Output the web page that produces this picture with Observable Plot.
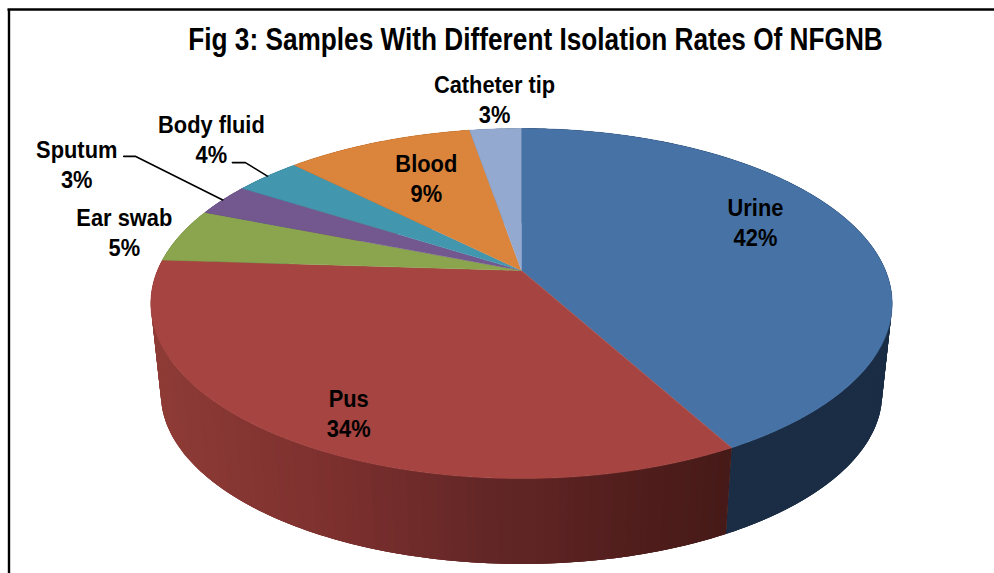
<!DOCTYPE html>
<html>
<head>
<meta charset="utf-8">
<style>html,body{margin:0;padding:0;background:#fff}svg{display:block}</style>
<script src="https://cdn.jsdelivr.net/npm/d3@7"></script>
<script src="https://cdn.jsdelivr.net/npm/@observablehq/plot@0.6"></script>
</head>
<body>
<div id="chart"></div>
<script>
const titleText = "Fig 3: Samples With Different Isolation Rates Of NFGNB";
const categories = ["Urine", "Pus", "Ear swab", "Sputum", "Body fluid", "Blood", "Catheter tip"];
const shares = [42, 34, 5, 3, 3.5, 9.8, 2.7];
const percentLabels = ["42%", "34%", "5%", "3%", "4%", "9%", "3%"];

const topColors = ["#4672a6", "#a54441", "#8aa54d", "#72588f", "#4296ae", "#da843c", "#93a9cf"];
const labelLayout = [
  {r: 0.7, dx: -5, dy: -21},
  {r: 0.8, dx: 6, dy: 11},
  {r: 1, dx: -56, dy: -4},
  {r: 1, dx: -146, dy: -37},
  {r: 1, dx: -56, dy: -38},
  {r: 0.6, dx: -4, dy: -11},
  {r: 1, dx: -1, dy: -31}
];
const leaderLayout = {
  "Sputum": [[-99, -43.5], [-87, -43.5], [0, 0]],
  "Body fluid": [[-35, -13.5], [-22, -13.5], [0, 0]]
};

// Pie geometry: a tilted disc seen in perspective
const W = 994, H = 573;
const cx = 521, cy = 270, B = 364, A = 168.8, k = 0.1886;
const wallScale = 0.973, wallDrop = 91;
const total = d3.sum(shares);
const cum = d3.cumsum(shares).map(v => v / total);
const starts = [0, ...cum.slice(0, -1)];

function project(frac, r = 1) {
  const a = frac * 2 * Math.PI, u = r * Math.sin(a), v = r * Math.cos(a), d = 1 + k * v;
  return [cx + B * u / d, cy - A * v / d];
}
function lower([x, y]) {
  return [cx + wallScale * (x - cx), cy + wallDrop + wallScale * (y - cy)];
}
const pusShade = d3.scaleLinear()
  .domain([160, 340, 500, 640, 730])
  .range(["#8e3b36", "#7c302e", "#622626", "#4f1d1b", "#451a18"])
  .clamp(true);
const wallColor = (i, x) => i === 0 ? "#1a2d45" : i === 1 ? pusShade(x) : d3.color(topColors[i]).darker(1).formatHex();

// Top-face polygons
const topPts = [];
categories.forEach((c, i) => {
  const n = Math.max(4, Math.ceil((cum[i] - starts[i]) * 720));
  topPts.push({id: c, color: topColors[i], p: [cx, cy]});
  for (let j = 0; j <= n; j++) {
    topPts.push({id: c, color: topColors[i], p: project(starts[i] + (cum[i] - starts[i]) * j / n)});
  }
});

// Side wall facets, each overlapping its neighbours, painted slice by slice and back to front
const facets = [];
categories.forEach((c, i) => {
  const n = Math.max(2, Math.ceil((cum[i] - starts[i]) * 360));
  const step = (cum[i] - starts[i]) / n;
  const sliceFacets = [];
  for (let j = 0; j < n; j++) {
    const mid0 = starts[i] + step * j;
    const f0 = Math.max(starts[i], mid0 - step);
    const f1 = Math.min(cum[i], mid0 + 2 * step);
    const m = project(mid0 + step / 2);
    const arc = d3.range(0, 5).map(t => project(f0 + (f1 - f0) * t / 4));
    sliceFacets.push({id: `${c}-${j}`, depth: m[1], color: wallColor(i, m[0]), quad: [...arc, ...arc.slice().reverse().map(lower)]});
  }
  sliceFacets.sort((p, q) => d3.ascending(p.depth, q.depth));
  facets.push({i, list: sliceFacets});
});
// Hidden rear slices first, then Urine, then Pus on top of it
const rear = facets.filter(f => f.i > 1), urine = facets.filter(f => f.i === 0), pus = facets.filter(f => f.i === 1);
const wallPts = [...rear, ...urine, ...pus].flatMap(s => s.list).flatMap(f => f.quad.map(p => ({id: f.id, color: f.color, p})));

// Labels and leaders follow each slice's middle angle
const mid = i => (starts[i] + cum[i]) / 2;
const labels = categories.map((c, i) => {
  const [x, y] = project(mid(i), labelLayout[i].r);
  return {x: x + labelLayout[i].dx, y: y + labelLayout[i].dy, text: `${c}\n${percentLabels[i]}`};
});
const leaders = Object.entries(leaderLayout).flatMap(([c, pts]) => {
  const [x, y] = project(mid(categories.indexOf(c)));
  return pts.map(([dx, dy]) => ({id: c, x: x + dx, y: y + dy}));
});

// The reference uses a condensed bold sans: squeeze the installed one horizontally
const squeeze = sx => function (index, scales, values, dimensions, context, next) {
  const g = next(index, scales, values, dimensions, context);
  d3.select(g).selectAll("text").attr("transform", function () {
    return `${this.getAttribute("transform") || ""} scale(${sx},1)`;
  });
  return g;
};

const font = "'Liberation Sans',Arial,sans-serif";
const chart = Plot.plot({
  width: W, height: H, margin: 0,
  x: {domain: [0, W], range: [0, W], axis: null},
  y: {domain: [0, H], range: [0, H], axis: null},
  marks: [
    Plot.ruleX([8.5], {y1: 9, y2: H, stroke: "#000", strokeWidth: 2.4}),
    Plot.ruleY([9], {x1: 7.5, x2: W, stroke: "#000", strokeWidth: 2.4}),
    Plot.line(wallPts, {x: d => d.p[0], y: d => d.p[1], z: "id", curve: "linear",
      fill: {value: d => d.color, scale: null}, stroke: "none"}),
    Plot.line(topPts, {x: d => d.p[0], y: d => d.p[1], z: "id", curve: "linear",
      fill: {value: d => d.color, scale: null}, stroke: {value: d => d.color, scale: null}, strokeWidth: 0.5}),
    Plot.line(leaders, {x: "x", y: "y", z: "id", stroke: "#000", strokeWidth: 1.6, curve: "linear"}),
    Plot.text(labels, {x: "x", y: "y", text: "text", fontFamily: font, fontWeight: 700, fontSize: 24, lineHeight: 1.25, fill: "#000", textAnchor: "middle", render: squeeze(0.91)}),
    Plot.text([titleText], {x: () => 535, y: () => 40, text: d => d, fontFamily: font, fontWeight: 700, fontSize: 31, fill: "#000", textAnchor: "middle", render: squeeze(0.846)})
  ]
});
document.getElementById("chart").append(chart);
</script>
</body>
</html>
